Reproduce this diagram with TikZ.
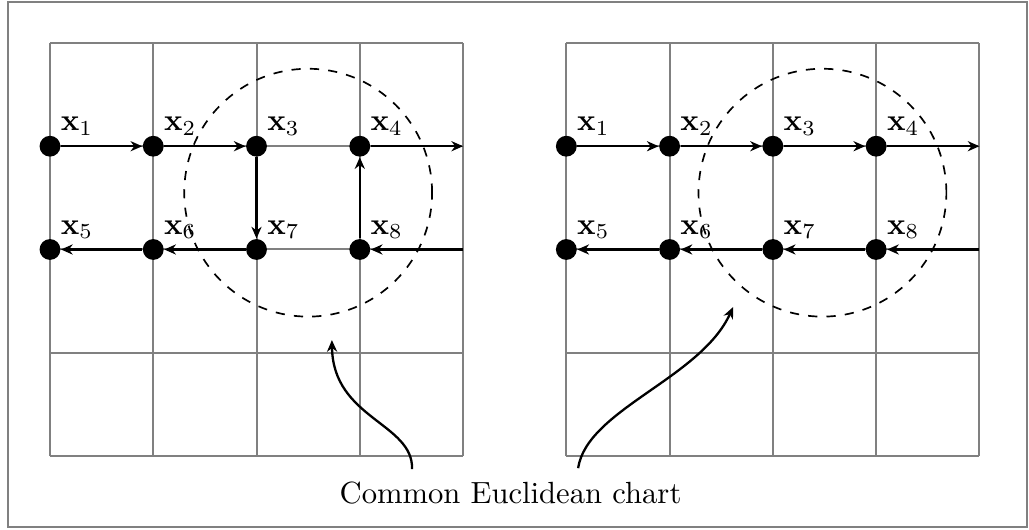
\documentclass[tikz,border=0pt]{standalone}
\usepackage{amsmath,amssymb}
\usepackage{tikz}
\usetikzlibrary{arrows.meta,positioning,calc}

\begin{document}
\begin{tikzpicture}[>={Stealth[length=3.8pt,width=3.3pt,inset=1.2pt]},x=1.185cm,y=1.185cm,
    pt/.style={circle,fill=black,inner sep=0pt,minimum size=6.8pt},
    lbl/.style={inner sep=0.8pt,anchor=south west},
    flow/.style={->,line width=0.8pt},
    gridline/.style={gray,line width=0.65pt}]
  \useasboundingbox (-0.484,-0.707) rectangle (9.48,4.416);
  \draw[gridline] (-0.407,-0.688) rectangle (9.46,4.40);
  % the two grids
  \draw[gridline,step={(1,1)}] (0,0) grid (4,4);
  \draw[gridline,step={(1,1)}] (5,0) grid (9,4);
  % charts
  \draw[dashed,line width=0.55pt] (2.5,2.55) circle (1.2);
  \draw[dashed,line width=0.55pt] (7.48,2.55) circle (1.2);
  % left chart: points
  \node[pt,label={[lbl]north east:$\mathbf{x}_1$}] (a1) at (0,3) {};
  \node[pt,label={[lbl]north east:$\mathbf{x}_2$}] (a2) at (1,3) {};
  \node[pt,label={[lbl]north east:$\mathbf{x}_3$}] (a3) at (2,3) {};
  \node[pt,label={[lbl]north east:$\mathbf{x}_4$}] (a4) at (3,3) {};
  \node[pt,label={[lbl]north east:$\mathbf{x}_5$}] (a5) at (0,2) {};
  \node[pt,label={[lbl]north east:$\mathbf{x}_6$}] (a6) at (1,2) {};
  \node[pt,label={[lbl]north east:$\mathbf{x}_7$}] (a7) at (2,2) {};
  \node[pt,label={[lbl]north east:$\mathbf{x}_8$}] (a8) at (3,2) {};
  \coordinate (aout) at (4,3);
  \coordinate (ain) at (4,2);
  \draw[flow] (a1) -- (a2);
  \draw[flow] (a2) -- (a3);
  \draw[flow] (a3) -- (a7);
  \draw[flow] (a7) -- (a6);
  \draw[flow] (a6) -- (a5);
  \draw[flow] (a8) -- (a4);
  \draw[flow] (a4) -- (aout);
  \draw[flow] (ain) -- (a8);
  % right chart: points
  \node[pt,label={[lbl]north east:$\mathbf{x}_1$}] (b1) at (5,3) {};
  \node[pt,label={[lbl]north east:$\mathbf{x}_2$}] (b2) at (6,3) {};
  \node[pt,label={[lbl]north east:$\mathbf{x}_3$}] (b3) at (7,3) {};
  \node[pt,label={[lbl]north east:$\mathbf{x}_4$}] (b4) at (8,3) {};
  \node[pt,label={[lbl]north east:$\mathbf{x}_5$}] (b5) at (5,2) {};
  \node[pt,label={[lbl]north east:$\mathbf{x}_6$}] (b6) at (6,2) {};
  \node[pt,label={[lbl]north east:$\mathbf{x}_7$}] (b7) at (7,2) {};
  \node[pt,label={[lbl]north east:$\mathbf{x}_8$}] (b8) at (8,2) {};
  \coordinate (bout) at (9,3);
  \coordinate (bin) at (9,2);
  \draw[flow] (b1) -- (b2);
  \draw[flow] (b2) -- (b3);
  \draw[flow] (b3) -- (b4);
  \draw[flow] (b4) -- (bout);
  \draw[flow] (bin) -- (b8);
  \draw[flow] (b8) -- (b7);
  \draw[flow] (b7) -- (b6);
  \draw[flow] (b6) -- (b5);
  % caption and pointers
  \node (chart) at (4.46,-0.36) {Common Euclidean chart};
  \coordinate (lfoot) at ($(chart.north)+(-0.954,0.02)$);
  \coordinate (rfoot) at ($(chart.north)+(0.654,0.03)$);
  \coordinate (ltip) at (2.73,1.123);
  \coordinate (rtip) at (6.615,1.443);
  \draw[->,line width=0.75pt] (lfoot) .. controls (3.52,0.32) and (2.74,0.36) .. (ltip);
  \draw[->,line width=0.75pt] (rfoot) .. controls (5.2,0.45) and (6.3,0.75) .. (rtip);
\end{tikzpicture}
\end{document}
